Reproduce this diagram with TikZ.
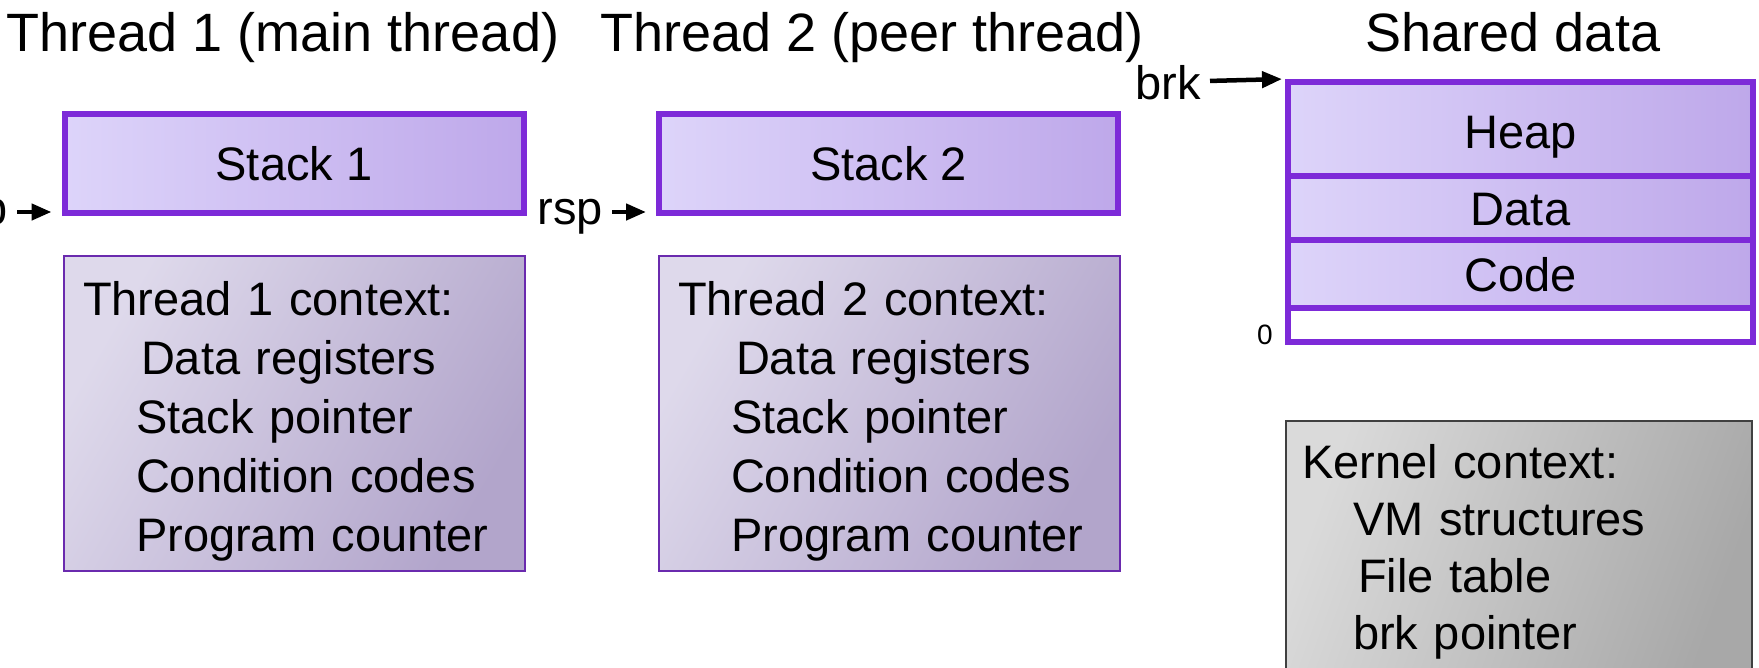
\documentclass[tikz,border=0pt]{standalone}
\usepackage{fontspec}
\setmainfont{Liberation Sans}
\usetikzlibrary{positioning, arrows.meta}
\definecolor{edgepurple}{RGB}{125,42,216}
\definecolor{lavlight}{RGB}{221,212,250}
\definecolor{lavdark}{RGB}{190,168,234}
\definecolor{ctxedge}{RGB}{106,42,174}
\definecolor{ctxlight}{RGB}{222,217,235}
\definecolor{ctxdark}{RGB}{178,165,203}
\definecolor{kernlight}{RGB}{218,218,218}
\definecolor{kerndark}{RGB}{168,168,168}
\newcommand{\topdrop}{\rule{0pt}{50pt}} % pushes the context lines down a little
\tikzset{
    x=1pt, y=-1pt, % one unit is one pixel, y grows downwards
    >={Triangle[length=20pt, width=16pt]}, % bold pointer heads
    ptr/.style={->, line width=4.5pt}, % the rsp and brk pointers
    big/.style={font=\fontsize{47}{59}\selectfont},
    title/.style={font=\fontsize{54}{60}\selectfont, anchor=base},
    lav/.style={left color=lavlight, right color=lavdark}, % lilac fill
    stackbox/.style={lav, draw=edgepurple, line width=6pt, inner sep=0pt,
        minimum width=459pt, minimum height=99pt, big},
    segbox/.style={draw=edgepurple, line width=6pt, inner sep=0pt,
        minimum width=465pt, text height=34pt, text depth=0pt, big},
    ctxbox/.style={draw=ctxedge, line width=2pt, left color=ctxlight, right color=ctxdark,
        shading angle=60, text width=423pt, align=left, inner xsep=19pt,
        minimum height=315pt, big},
    ptrlabel/.style={big, anchor=east, inner xsep=9pt, text height=24pt, text depth=0pt},
}
\begin{document}
\begin{tikzpicture}
\useasboundingbox (0,0) rectangle (1759,667);
% titles
\node[title] (t1title) at (283,51) {Thread 1 (main thread)};
\node[title] (t2title) at (872,51) {Thread 2 (peer thread)};
\node[title] (shtitle) at (1513,51) {Shared data};
% thread 1
\node[stackbox] (stack1) at (294,163.5) {Stack 1};
\node[ptrlabel] (rsp1) at (17,212) {rsp};
\node[ctxbox] (ctx1) at (294.5,413.5) {\topdrop Thread 1 context:\\
    \hspace*{58pt}Data registers\\
    \hspace*{53pt}Stack pointer\\
    \hspace*{53pt}Condition codes\\
    \hspace*{53pt}Program counter};
% thread 2
\node[stackbox] (stack2) at (888.5,163.5) {Stack 2};
\node[ptrlabel] (rsp2) at (612,212) {rsp};
\node[ctxbox] (ctx2) at (889.5,413.5) {\topdrop Thread 2 context:\\
    \hspace*{58pt}Data registers\\
    \hspace*{53pt}Stack pointer\\
    \hspace*{53pt}Condition codes\\
    \hspace*{53pt}Program counter};
% shared data
\node[segbox, lav, minimum height=94pt, text height=39pt] (heap) at (1520.5,129) {Heap};
\node[segbox, lav, minimum height=64pt] (data) at (1520.5,208) {Data};
\node[segbox, lav, minimum height=68pt] (code) at (1520.5,274) {Code};
\node[segbox, fill=white, minimum height=34pt] (bottom) at (1520.5,325) {};
\node[font=\fontsize{28}{30}\selectfont] (zero) at (1265,335) {0};
\node[big, anchor=east, inner xsep=9pt, text height=34pt, text depth=0pt] (brk) at (1210,82) {brk};
\node[draw=black!75, line width=2pt, left color=kernlight, right color=kerndark,
    shading angle=70, text width=434pt, align=left, inner xsep=16pt,
    minimum height=262pt, font=\fontsize{47}{57}\selectfont] (kernel) at (1519,552) {Kernel context:\\
    \hspace*{51pt}VM structures\\
    \hspace*{56pt}File table\\
    \hspace*{51pt}brk pointer};
% pointers
\draw[ptr, shorten >=10pt] (rsp1) -- (rsp1 -| stack1.west);
\draw[ptr, shorten >=10pt] (rsp2) -- (rsp2 -| stack2.west);
\draw[ptr, shorten >=3pt] (brk) -- (heap.north west);
\end{tikzpicture}
\end{document}
